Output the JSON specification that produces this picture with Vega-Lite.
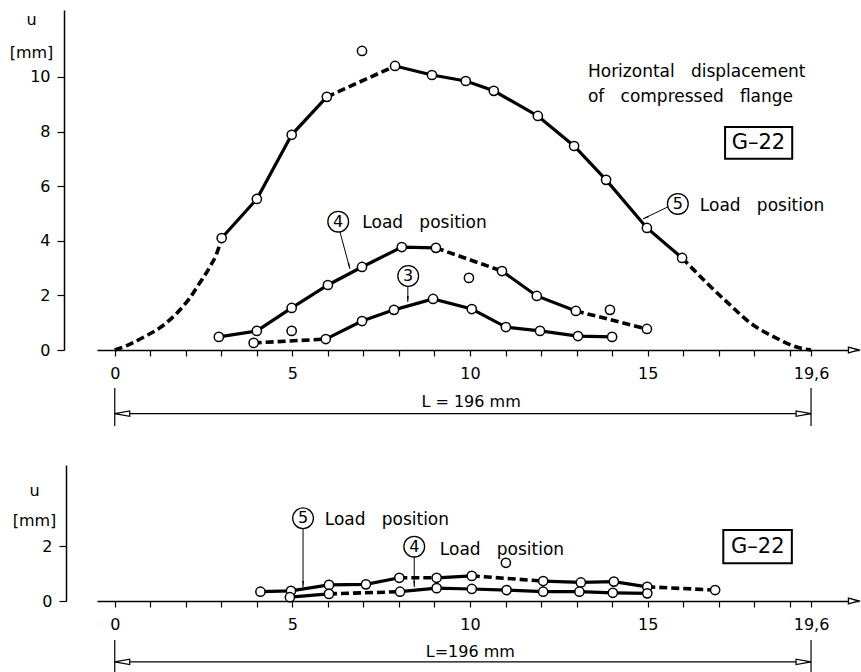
{
"$schema": "https://vega.github.io/schema/vega-lite/v6.json",
"background": "white",
"padding": {"left": 9, "top": 10, "right": 0, "bottom": 0},
"bounds": "flush",
"spacing": 115,
"config": {
  "view": {"stroke": null},
  "font": "DejaVu Sans",
  "text": {"font": "DejaVu Sans", "color": "black"},
  "axis": {"labelFont": "DejaVu Sans", "titleFont": "DejaVu Sans", "labelColor": "black", "titleColor": "black", "domainColor": "black", "tickColor": "black", "grid": false, "labelFontSize": 16, "titleFontSize": 16, "titleFontWeight": "normal", "domainWidth": 1.5, "tickWidth": 1.2}
},
"datasets": {
  "lines": [
    {"panel":"top","seg":"5a","kind":"interpolated","x":0,"u":0},
    {"panel":"top","seg":"5a","kind":"interpolated","x":0.37,"u":0.18},
    {"panel":"top","seg":"5a","kind":"interpolated","x":0.84,"u":0.49},
    {"panel":"top","seg":"5a","kind":"interpolated","x":1.31,"u":0.85},
    {"panel":"top","seg":"5a","kind":"interpolated","x":1.74,"u":1.34},
    {"panel":"top","seg":"5a","kind":"interpolated","x":2.11,"u":1.9},
    {"panel":"top","seg":"5a","kind":"interpolated","x":2.39,"u":2.45},
    {"panel":"top","seg":"5a","kind":"interpolated","x":2.68,"u":3.05},
    {"panel":"top","seg":"5a","kind":"interpolated","x":2.86,"u":3.5},
    {"panel":"top","seg":"5a","kind":"interpolated","x":3.01,"u":4.10},
    {"panel":"top","seg":"5b","kind":"measured","x":3.01,"u":4.10},
    {"panel":"top","seg":"5b","kind":"measured","x":4.0,"u":5.53},
    {"panel":"top","seg":"5b","kind":"measured","x":4.98,"u":7.88},
    {"panel":"top","seg":"5b","kind":"measured","x":5.97,"u":9.27},
    {"panel":"top","seg":"5c","kind":"interpolated","x":5.97,"u":9.27},
    {"panel":"top","seg":"5c","kind":"interpolated","x":7.89,"u":10.40},
    {"panel":"top","seg":"5d","kind":"measured","x":7.89,"u":10.40},
    {"panel":"top","seg":"5d","kind":"measured","x":8.93,"u":10.07},
    {"panel":"top","seg":"5d","kind":"measured","x":9.88,"u":9.85},
    {"panel":"top","seg":"5d","kind":"measured","x":10.67,"u":9.49},
    {"panel":"top","seg":"5d","kind":"measured","x":11.91,"u":8.57},
    {"panel":"top","seg":"5d","kind":"measured","x":12.93,"u":7.47},
    {"panel":"top","seg":"5d","kind":"measured","x":13.83,"u":6.23},
    {"panel":"top","seg":"5d","kind":"measured","x":14.98,"u":4.47},
    {"panel":"top","seg":"5d","kind":"measured","x":15.97,"u":3.37},
    {"panel":"top","seg":"5e","kind":"interpolated","x":15.97,"u":3.37},
    {"panel":"top","seg":"5e","kind":"interpolated","x":16.67,"u":2.45},
    {"panel":"top","seg":"5e","kind":"interpolated","x":17.32,"u":1.65},
    {"panel":"top","seg":"5e","kind":"interpolated","x":17.89,"u":0.99},
    {"panel":"top","seg":"5e","kind":"interpolated","x":18.54,"u":0.49},
    {"panel":"top","seg":"5e","kind":"interpolated","x":19.3,"u":0.07},
    {"panel":"top","seg":"5e","kind":"interpolated","x":19.6,"u":0},
    {"panel":"top","seg":"4a","kind":"measured","x":2.93,"u":0.48},
    {"panel":"top","seg":"4a","kind":"measured","x":4.0,"u":0.70},
    {"panel":"top","seg":"4a","kind":"measured","x":4.98,"u":1.54},
    {"panel":"top","seg":"4a","kind":"measured","x":6.0,"u":2.38},
    {"panel":"top","seg":"4a","kind":"measured","x":6.96,"u":3.04},
    {"panel":"top","seg":"4a","kind":"measured","x":8.08,"u":3.77},
    {"panel":"top","seg":"4a","kind":"measured","x":9.04,"u":3.74},
    {"panel":"top","seg":"4b","kind":"interpolated","x":9.04,"u":3.74},
    {"panel":"top","seg":"4b","kind":"interpolated","x":10.9,"u":2.89},
    {"panel":"top","seg":"4c","kind":"measured","x":10.9,"u":2.89},
    {"panel":"top","seg":"4c","kind":"measured","x":11.88,"u":1.98},
    {"panel":"top","seg":"4c","kind":"measured","x":12.98,"u":1.43},
    {"panel":"top","seg":"4d","kind":"interpolated","x":12.98,"u":1.43},
    {"panel":"top","seg":"4d","kind":"interpolated","x":14.98,"u":0.77},
    {"panel":"top","seg":"3a","kind":"interpolated","x":3.91,"u":0.26},
    {"panel":"top","seg":"3a","kind":"interpolated","x":5.94,"u":0.40},
    {"panel":"top","seg":"3b","kind":"measured","x":5.94,"u":0.40},
    {"panel":"top","seg":"3b","kind":"measured","x":6.96,"u":1.06},
    {"panel":"top","seg":"3b","kind":"measured","x":7.86,"u":1.47},
    {"panel":"top","seg":"3b","kind":"measured","x":8.96,"u":1.87},
    {"panel":"top","seg":"3b","kind":"measured","x":10.05,"u":1.50},
    {"panel":"top","seg":"3b","kind":"measured","x":11.01,"u":0.84},
    {"panel":"top","seg":"3b","kind":"measured","x":11.97,"u":0.70},
    {"panel":"top","seg":"3b","kind":"measured","x":13.04,"u":0.51},
    {"panel":"top","seg":"3b","kind":"measured","x":14.0,"u":0.48},
    {"panel":"bottom","seg":"U1","kind":"measured","x":4.10,"u":0.34},
    {"panel":"bottom","seg":"U1","kind":"measured","x":4.96,"u":0.37},
    {"panel":"bottom","seg":"U1","kind":"measured","x":6.03,"u":0.59},
    {"panel":"bottom","seg":"U1","kind":"measured","x":7.07,"u":0.61},
    {"panel":"bottom","seg":"U1","kind":"measured","x":8.01,"u":0.85},
    {"panel":"bottom","seg":"U2","kind":"interpolated","x":8.01,"u":0.85},
    {"panel":"bottom","seg":"U2","kind":"interpolated","x":9.06,"u":0.85},
    {"panel":"bottom","seg":"U3","kind":"measured","x":9.06,"u":0.85},
    {"panel":"bottom","seg":"U3","kind":"measured","x":10.05,"u":0.92},
    {"panel":"bottom","seg":"U4","kind":"interpolated","x":10.05,"u":0.92},
    {"panel":"bottom","seg":"U4","kind":"interpolated","x":12.06,"u":0.73},
    {"panel":"bottom","seg":"U5","kind":"measured","x":12.06,"u":0.73},
    {"panel":"bottom","seg":"U5","kind":"measured","x":13.12,"u":0.68},
    {"panel":"bottom","seg":"U5","kind":"measured","x":14.05,"u":0.71},
    {"panel":"bottom","seg":"U5","kind":"measured","x":14.99,"u":0.52},
    {"panel":"bottom","seg":"U6","kind":"interpolated","x":14.99,"u":0.52},
    {"panel":"bottom","seg":"U6","kind":"interpolated","x":16.9,"u":0.40},
    {"panel":"bottom","seg":"L1","kind":"measured","x":4.93,"u":0.14},
    {"panel":"bottom","seg":"L1","kind":"measured","x":6.03,"u":0.26},
    {"panel":"bottom","seg":"L2","kind":"interpolated","x":6.03,"u":0.26},
    {"panel":"bottom","seg":"L2","kind":"interpolated","x":8.03,"u":0.34},
    {"panel":"bottom","seg":"L3","kind":"measured","x":8.03,"u":0.34},
    {"panel":"bottom","seg":"L3","kind":"measured","x":9.06,"u":0.47},
    {"panel":"bottom","seg":"L3","kind":"measured","x":10.05,"u":0.44},
    {"panel":"bottom","seg":"L3","kind":"measured","x":11.03,"u":0.40},
    {"panel":"bottom","seg":"L3","kind":"measured","x":12.06,"u":0.34},
    {"panel":"bottom","seg":"L3","kind":"measured","x":13.08,"u":0.34},
    {"panel":"bottom","seg":"L3","kind":"measured","x":14.02,"u":0.30},
    {"panel":"bottom","seg":"L3","kind":"measured","x":14.99,"u":0.28}
  ],
  "markers": [
    {"panel":"top","series":"5","x":3.01,"u":4.10},{"panel":"top","series":"5","x":4.0,"u":5.53},{"panel":"top","series":"5","x":4.98,"u":7.88},{"panel":"top","series":"5","x":5.97,"u":9.27},{"panel":"top","series":"5","x":7.89,"u":10.40},{"panel":"top","series":"5","x":8.93,"u":10.07},{"panel":"top","series":"5","x":9.88,"u":9.85},{"panel":"top","series":"5","x":10.67,"u":9.49},{"panel":"top","series":"5","x":11.91,"u":8.57},{"panel":"top","series":"5","x":12.93,"u":7.47},{"panel":"top","series":"5","x":13.83,"u":6.23},{"panel":"top","series":"5","x":14.98,"u":4.47},{"panel":"top","series":"5","x":15.97,"u":3.37},
    {"panel":"top","series":"4","x":2.93,"u":0.48},{"panel":"top","series":"4","x":4.0,"u":0.70},{"panel":"top","series":"4","x":4.98,"u":1.54},{"panel":"top","series":"4","x":6.0,"u":2.38},{"panel":"top","series":"4","x":6.96,"u":3.04},{"panel":"top","series":"4","x":8.08,"u":3.77},{"panel":"top","series":"4","x":9.04,"u":3.74},{"panel":"top","series":"4","x":10.9,"u":2.89},{"panel":"top","series":"4","x":11.88,"u":1.98},{"panel":"top","series":"4","x":12.98,"u":1.43},{"panel":"top","series":"4","x":14.98,"u":0.77},
    {"panel":"top","series":"3","x":3.91,"u":0.26},{"panel":"top","series":"3","x":5.94,"u":0.40},{"panel":"top","series":"3","x":6.96,"u":1.06},{"panel":"top","series":"3","x":7.86,"u":1.47},{"panel":"top","series":"3","x":8.96,"u":1.87},{"panel":"top","series":"3","x":10.05,"u":1.50},{"panel":"top","series":"3","x":11.01,"u":0.84},{"panel":"top","series":"3","x":11.97,"u":0.70},{"panel":"top","series":"3","x":13.04,"u":0.51},{"panel":"top","series":"3","x":14.0,"u":0.48},
    {"panel":"top","series":"single","x":6.96,"u":10.95},{"panel":"top","series":"single","x":4.98,"u":0.70},{"panel":"top","series":"single","x":9.97,"u":2.64},{"panel":"top","series":"single","x":13.94,"u":1.47},
    {"panel":"bottom","series":"5","x":4.10,"u":0.34},{"panel":"bottom","series":"5","x":4.96,"u":0.37},{"panel":"bottom","series":"5","x":6.03,"u":0.59},{"panel":"bottom","series":"5","x":7.07,"u":0.61},{"panel":"bottom","series":"5","x":8.01,"u":0.85},{"panel":"bottom","series":"5","x":9.06,"u":0.85},{"panel":"bottom","series":"5","x":10.05,"u":0.92},{"panel":"bottom","series":"5","x":12.06,"u":0.73},{"panel":"bottom","series":"5","x":13.12,"u":0.68},{"panel":"bottom","series":"5","x":14.05,"u":0.71},{"panel":"bottom","series":"5","x":14.99,"u":0.52},{"panel":"bottom","series":"5","x":16.9,"u":0.40},
    {"panel":"bottom","series":"4","x":4.93,"u":0.14},{"panel":"bottom","series":"4","x":6.03,"u":0.26},{"panel":"bottom","series":"4","x":8.03,"u":0.34},{"panel":"bottom","series":"4","x":9.06,"u":0.47},{"panel":"bottom","series":"4","x":10.05,"u":0.44},{"panel":"bottom","series":"4","x":11.03,"u":0.40},{"panel":"bottom","series":"4","x":12.06,"u":0.34},{"panel":"bottom","series":"4","x":13.08,"u":0.34},{"panel":"bottom","series":"4","x":14.02,"u":0.30},{"panel":"bottom","series":"4","x":14.99,"u":0.28},
    {"panel":"bottom","series":"single","x":11.01,"u":1.40}
  ],
  "arrows": [
    {"panel":"top","x":15.57,"u":5.24,"x2":14.87,"u2":4.80},
    {"panel":"top","x":6.34,"u":4.32,"x2":6.62,"u2":2.97},
    {"panel":"top","x":8.25,"u":2.31,"x2":8.25,"u2":1.76},
    {"panel":"bottom","x":5.30,"u":2.64,"x2":5.30,"u2":0.51},
    {"panel":"bottom","x":8.43,"u":1.61,"x2":8.43,"u2":0.51}
  ],
  "heads": [
    {"panel":"top","dir":"t5","x":14.97,"u":4.86},
    {"panel":"top","dir":"t4","x":6.59,"u":3.11},
    {"panel":"top","dir":"down","x":8.25,"u":1.90},
    {"panel":"bottom","dir":"down","x":5.30,"u":0.66},
    {"panel":"bottom","dir":"down","x":8.43,"u":0.66}
  ],
  "circles": [
    {"panel":"top","num":"5","x":15.85,"u":5.35},
    {"panel":"top","num":"4","x":6.29,"u":4.70},
    {"panel":"top","num":"3","x":8.26,"u":2.71},
    {"panel":"bottom","num":"5","x":5.30,"u":3.03},
    {"panel":"bottom","num":"4","x":8.43,"u":1.99}
  ],
  "labels": [
    {"panel":"top","text":"Horizontal\u00a0\u00a0 displacement","x":13.32,"u":9.99},
    {"panel":"top","text":"of\u00a0\u00a0 compressed\u00a0\u00a0 flange","x":13.32,"u":9.07},
    {"panel":"top","text":"Load\u00a0\u00a0 position","x":16.47,"u":5.1},
    {"panel":"top","text":"Load\u00a0\u00a0 position","x":6.97,"u":4.46},
    {"panel":"bottom","text":"Load\u00a0\u00a0 position","x":5.91,"u":2.78},
    {"panel":"bottom","text":"Load\u00a0\u00a0 position","x":9.15,"u":1.68}
  ],
  "boxes": [
    {"panel":"top","x":17.18,"x2":19.07,"u":8.17,"u2":7.0},
    {"panel":"bottom","x":17.13,"x2":19.06,"u":2.6,"u2":1.38}
  ],
  "boxtext": [
    {"panel":"top","text":"G–22","x":18.12,"u":7.58},
    {"panel":"bottom","text":"G–22","x":18.1,"u":1.99}
  ],
  "dimlines": [
    {"panel":"top","x":0,"x2":19.6,"u":-2.33},
    {"panel":"bottom","x":0,"x2":19.6,"u":-2.23}
  ],
  "dimext": [
    {"panel":"top","x":0,"u":-1.39,"u2":-2.78},
    {"panel":"top","x":19.6,"u":-1.39,"u2":-2.78},
    {"panel":"bottom","x":0,"u":-1.43,"u2":-2.75},
    {"panel":"bottom","x":19.6,"u":-1.43,"u2":-2.75}
  ],
  "dimheads": [
    {"panel":"top","side":"left","x":0.21,"u":-2.33},
    {"panel":"top","side":"right","x":19.39,"u":-2.33},
    {"panel":"bottom","side":"left","x":0.21,"u":-2.23},
    {"panel":"bottom","side":"right","x":19.39,"u":-2.23}
  ],
  "dimtext": [
    {"panel":"top","text":"L = 196 mm","x":10.03,"u":-2.09},
    {"panel":"bottom","text":"L=196 mm","x":10.01,"u":-2.05}
  ],
  "axisend": [
    {"panel":"top","x":20.8,"u":0},
    {"panel":"bottom","x":20.8,"u":0}
  ]
},
"vconcat": [
{
  "width": 762, "height": 340,
  "encoding": {
    "x": {"field":"x","type":"quantitative","scale":{"domain":[-0.5,20.95],"nice":false,"zero":false},
      "axis":{"values":[0,1,2,3,4,5,6,7,8,9,10,11,12,13,14,15,16,17,18,19,19.6],"labelExpr":"datum.value == 19.6 ? '19,6' : (datum.value % 5 == 0 ? datum.label : '')","title":null,"tickSize":6,"labelPadding":9,"labelOverlap":false,"labelFlush":false}},
    "y": {"field":"u","type":"quantitative","scale":{"domain":[0,12.45],"nice":false,"zero":false},
      "axis":{"values":[0,2,4,6,8,10],"title":["u","[mm]"],"titleAngle":0,"titleAlign":"center","titleBaseline":"alphabetic","titleX":-33,"titleY":14,"titleLineHeight":33,"offset":33,"tickSize":7,"labelPadding":7}}
  },
  "layer": [
    {"data":{"name":"lines"},"transform":[{"filter":"datum.panel=='top' && datum.kind=='measured'"}],"mark":{"type":"line","color":"black","strokeWidth":3.2},"encoding":{"detail":{"field":"seg"}}},
    {"data":{"name":"lines"},"transform":[{"filter":"datum.panel=='top' && datum.kind=='interpolated'"}],"mark":{"type":"line","color":"black","strokeWidth":3.6,"strokeDash":[8,4],"interpolate":"monotone"},"encoding":{"detail":{"field":"seg"}}},
    {"data":{"name":"arrows"},"transform":[{"filter":"datum.panel=='top'"}],"mark":{"type":"rule","color":"black","strokeWidth":1},"encoding":{"x2":{"field":"x2"},"y2":{"field":"u2"}}},
    {"data":{"name":"heads"},"transform":[{"filter":"datum.panel=='top' && datum.dir=='t5'"}],"mark":{"type":"point","shape":"wedge","filled":true,"color":"black","size":50,"angle":246,"opacity":1}},
    {"data":{"name":"heads"},"transform":[{"filter":"datum.panel=='top' && datum.dir=='t4'"}],"mark":{"type":"point","shape":"wedge","filled":true,"color":"black","size":50,"angle":165,"opacity":1}},
    {"data":{"name":"heads"},"transform":[{"filter":"datum.panel=='top' && datum.dir=='down'"}],"mark":{"type":"point","shape":"wedge","filled":true,"color":"black","size":50,"angle":180,"opacity":1}},
    {"data":{"name":"markers"},"transform":[{"filter":"datum.panel=='top'"}],"mark":{"type":"point","shape":"circle","filled":true,"fill":"white","stroke":"black","strokeWidth":1.5,"size":85,"opacity":1}},
    {"data":{"name":"circles"},"transform":[{"filter":"datum.panel=='top'"}],"mark":{"type":"point","shape":"circle","filled":true,"fill":"white","stroke":"black","strokeWidth":1.3,"size":430,"opacity":1}},
    {"data":{"name":"circles"},"transform":[{"filter":"datum.panel=='top'"}],"mark":{"type":"text","fontSize":16,"align":"center","baseline":"middle","color":"black"},"encoding":{"text":{"field":"num"}}},
    {"data":{"name":"labels"},"transform":[{"filter":"datum.panel=='top'"}],"mark":{"type":"text","fontSize":17,"align":"left","baseline":"alphabetic","color":"black"},"encoding":{"text":{"field":"text"}}},
    {"data":{"name":"boxes"},"transform":[{"filter":"datum.panel=='top'"}],"mark":{"type":"rect","fill":"white","stroke":"black","strokeWidth":2},"encoding":{"x2":{"field":"x2"},"y2":{"field":"u2"}}},
    {"data":{"name":"boxtext"},"transform":[{"filter":"datum.panel=='top'"}],"mark":{"type":"text","fontSize":21,"align":"center","baseline":"middle","color":"black"},"encoding":{"text":{"field":"text"}}},
    {"data":{"name":"dimlines"},"transform":[{"filter":"datum.panel=='top'"}],"mark":{"type":"rule","color":"black","strokeWidth":1.2},"encoding":{"x2":{"field":"x2"}}},
    {"data":{"name":"dimext"},"transform":[{"filter":"datum.panel=='top'"}],"mark":{"type":"rule","color":"black","strokeWidth":1.2},"encoding":{"y2":{"field":"u2"}}},
    {"data":{"name":"dimheads"},"transform":[{"filter":"datum.panel=='top' && datum.side=='left'"}],"mark":{"type":"point","shape":"M -1 0 L 1 -0.35 L 1 0.35 Z","filled":true,"fill":"white","stroke":"black","strokeWidth":1.2,"size":225,"opacity":1}},
    {"data":{"name":"dimheads"},"transform":[{"filter":"datum.panel=='top' && datum.side=='right'"}],"mark":{"type":"point","shape":"M 1 0 L -1 -0.35 L -1 0.35 Z","filled":true,"fill":"white","stroke":"black","strokeWidth":1.2,"size":225,"opacity":1}},
    {"data":{"name":"dimtext"},"transform":[{"filter":"datum.panel=='top'"}],"mark":{"type":"text","fontSize":16,"align":"center","baseline":"alphabetic","color":"black"},"encoding":{"text":{"field":"text"}}},
    {"data":{"name":"axisend"},"transform":[{"filter":"datum.panel=='top'"}],"mark":{"type":"point","shape":"M 1 0 L -1 -0.55 L -1 0.55 Z","filled":true,"fill":"white","stroke":"black","strokeWidth":1.3,"size":110,"opacity":1}}
  ]
},
{
  "width": 762, "height": 136,
  "encoding": {
    "x": {"field":"x","type":"quantitative","scale":{"domain":[-0.5,20.95],"nice":false,"zero":false},
      "axis":{"values":[0,1,2,3,4,5,6,7,8,9,10,11,12,13,14,15,16,17,18,19,19.6],"labelExpr":"datum.value == 19.6 ? '19,6' : (datum.value % 5 == 0 ? datum.label : '')","title":null,"tickSize":6,"labelPadding":9,"labelOverlap":false,"labelFlush":false}},
    "y": {"field":"u","type":"quantitative","scale":{"domain":[0,4.98],"nice":false,"zero":false},
      "axis":{"values":[0,2],"title":["u","[mm]"],"titleAngle":0,"titleAlign":"center","titleBaseline":"alphabetic","titleX":-32,"titleY":30,"titleLineHeight":30,"offset":31,"tickSize":7,"labelPadding":7}}
  },
  "layer": [
    {"data":{"name":"lines"},"transform":[{"filter":"datum.panel=='bottom' && datum.kind=='measured'"}],"mark":{"type":"line","color":"black","strokeWidth":3.2},"encoding":{"detail":{"field":"seg"}}},
    {"data":{"name":"lines"},"transform":[{"filter":"datum.panel=='bottom' && datum.kind=='interpolated'"}],"mark":{"type":"line","color":"black","strokeWidth":3.6,"strokeDash":[8,4],"interpolate":"monotone"},"encoding":{"detail":{"field":"seg"}}},
    {"data":{"name":"arrows"},"transform":[{"filter":"datum.panel=='bottom'"}],"mark":{"type":"rule","color":"black","strokeWidth":1},"encoding":{"x2":{"field":"x2"},"y2":{"field":"u2"}}},
    {"data":{"name":"heads"},"transform":[{"filter":"datum.panel=='bottom' && datum.dir=='down'"}],"mark":{"type":"point","shape":"wedge","filled":true,"color":"black","size":50,"angle":180,"opacity":1}},
    {"data":{"name":"markers"},"transform":[{"filter":"datum.panel=='bottom'"}],"mark":{"type":"point","shape":"circle","filled":true,"fill":"white","stroke":"black","strokeWidth":1.5,"size":85,"opacity":1}},
    {"data":{"name":"circles"},"transform":[{"filter":"datum.panel=='bottom'"}],"mark":{"type":"point","shape":"circle","filled":true,"fill":"white","stroke":"black","strokeWidth":1.3,"size":430,"opacity":1}},
    {"data":{"name":"circles"},"transform":[{"filter":"datum.panel=='bottom'"}],"mark":{"type":"text","fontSize":16,"align":"center","baseline":"middle","color":"black"},"encoding":{"text":{"field":"num"}}},
    {"data":{"name":"labels"},"transform":[{"filter":"datum.panel=='bottom'"}],"mark":{"type":"text","fontSize":17,"align":"left","baseline":"alphabetic","color":"black"},"encoding":{"text":{"field":"text"}}},
    {"data":{"name":"boxes"},"transform":[{"filter":"datum.panel=='bottom'"}],"mark":{"type":"rect","fill":"white","stroke":"black","strokeWidth":2},"encoding":{"x2":{"field":"x2"},"y2":{"field":"u2"}}},
    {"data":{"name":"boxtext"},"transform":[{"filter":"datum.panel=='bottom'"}],"mark":{"type":"text","fontSize":21,"align":"center","baseline":"middle","color":"black"},"encoding":{"text":{"field":"text"}}},
    {"data":{"name":"dimlines"},"transform":[{"filter":"datum.panel=='bottom'"}],"mark":{"type":"rule","color":"black","strokeWidth":1.2},"encoding":{"x2":{"field":"x2"}}},
    {"data":{"name":"dimext"},"transform":[{"filter":"datum.panel=='bottom'"}],"mark":{"type":"rule","color":"black","strokeWidth":1.2},"encoding":{"y2":{"field":"u2"}}},
    {"data":{"name":"dimheads"},"transform":[{"filter":"datum.panel=='bottom' && datum.side=='left'"}],"mark":{"type":"point","shape":"M -1 0 L 1 -0.35 L 1 0.35 Z","filled":true,"fill":"white","stroke":"black","strokeWidth":1.2,"size":225,"opacity":1}},
    {"data":{"name":"dimheads"},"transform":[{"filter":"datum.panel=='bottom' && datum.side=='right'"}],"mark":{"type":"point","shape":"M 1 0 L -1 -0.35 L -1 0.35 Z","filled":true,"fill":"white","stroke":"black","strokeWidth":1.2,"size":225,"opacity":1}},
    {"data":{"name":"dimtext"},"transform":[{"filter":"datum.panel=='bottom'"}],"mark":{"type":"text","fontSize":16,"align":"center","baseline":"alphabetic","color":"black"},"encoding":{"text":{"field":"text"}}},
    {"data":{"name":"axisend"},"transform":[{"filter":"datum.panel=='bottom'"}],"mark":{"type":"point","shape":"M 1 0 L -1 -0.55 L -1 0.55 Z","filled":true,"fill":"white","stroke":"black","strokeWidth":1.3,"size":110,"opacity":1}}
  ]
}
]
}
